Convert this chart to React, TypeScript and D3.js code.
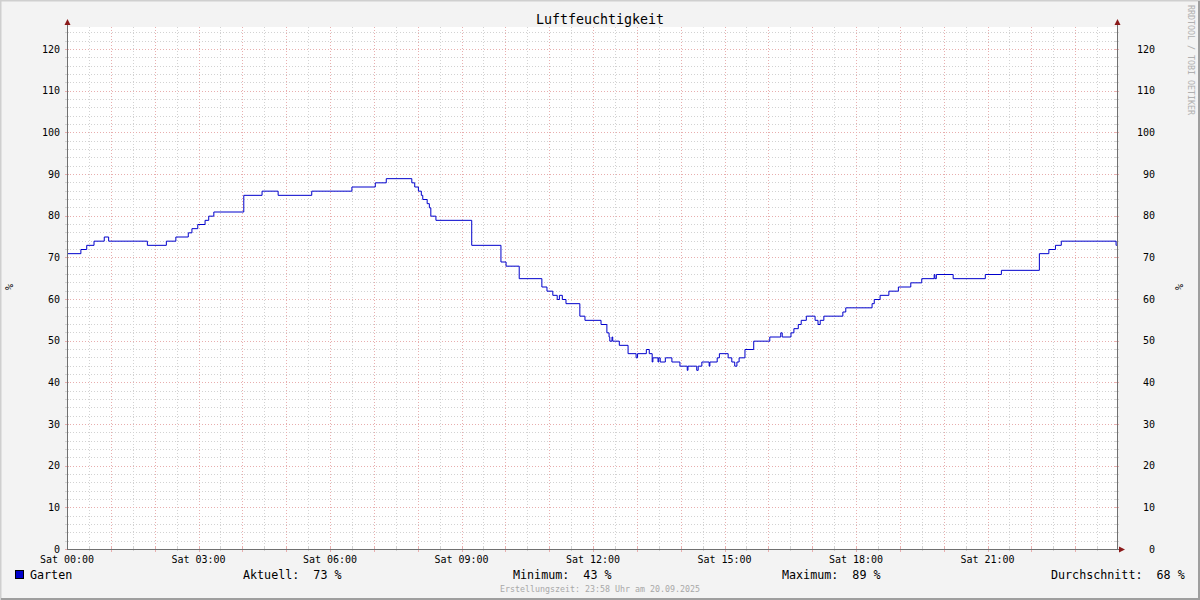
import React from "react";
import * as d3 from "d3";

// chart content
const title = "Luftfeuchtigkeit";
const seriesName = "Garten";
const unitLabel = "%";
const watermark = "RRDTOOL / TOBI OETIKER";
const footer = "Erstellungszeit: 23:58 Uhr am 20.09.2025";

// step changes of the humidity curve: minute of day -> value (%)
const stepMinutes = [
  0, 19, 27, 37, 51, 57, 110, 136, 149, 166, 171, 179, 189, 194, 201, 242, 267, 289, 335, 390,
  422, 437, 472, 476, 481, 485, 487, 493, 496, 498, 505, 554, 594, 601, 619, 650, 657, 665, 671, 674,
  678, 683, 702, 709, 731, 739, 742, 743, 746, 747, 756, 768, 779, 781, 793, 797, 801, 802, 809, 810,
  812, 819, 828, 839, 849, 850, 862, 864, 869, 879, 880, 890, 893, 905, 910, 914, 917, 920, 928, 940,
  962, 977, 979, 991, 995, 1001, 1005, 1012, 1024, 1028, 1031, 1036, 1062, 1066, 1102, 1105, 1113, 1125, 1138, 1155,
  1170, 1187, 1188, 1190, 1213, 1257, 1279, 1331, 1344, 1353, 1361, 1436,
];
const stepValues = [
  71, 72, 73, 74, 75, 74, 73, 74, 75, 76, 77, 78, 79, 80, 81, 85, 86, 85, 86, 87,
  88, 89, 88, 87, 86, 85, 84, 83, 82, 80, 79, 73, 69, 68, 65, 63, 62, 61, 60, 61,
  60, 59, 56, 55, 54, 52, 51, 50, 51, 50, 49, 47, 46, 47, 48, 47, 45, 46, 45, 46,
  45, 46, 45, 44, 43, 44, 43, 44, 45, 44, 45, 46, 47, 46, 45, 44, 45, 46, 48, 50,
  51, 52, 51, 52, 53, 54, 55, 56, 55, 54, 55, 56, 57, 58, 59, 60, 61, 62, 63, 64,
  65, 66, 65, 66, 65, 66, 67, 71, 72, 73, 74, 73,
];
const endMinute = 1437;

const yTicks = [0, 10, 20, 30, 40, 50, 60, 70, 80, 90, 100, 110, 120];
const xLabelHours = [0, 3, 6, 9, 12, 15, 18, 21];
const xLabels = ["Sat 00:00", "Sat 03:00", "Sat 06:00", "Sat 09:00", "Sat 12:00", "Sat 15:00", "Sat 18:00", "Sat 21:00"];

const statLabels = ["Aktuell:", "Minimum:", "Maximum:", "Durchschnitt:"];
const statValues = ["73 %", "43 %", "89 %", "68 %"];

const W = 1200;
const H = 600;
const plot = { left: 67, right: 1117, top: 27, bottom: 549 };
const mono = "'DejaVu Sans Mono', monospace";
const lineColor = "#0000cc";
const minorGrid = "#d2d2d2";
const majorGrid = "#e8aeae";
const axisColor = "#707070";
const arrowColor = "#8b1a1a";

const App: React.FC = () => {
  const x = d3.scaleLinear().domain([0, 1440]).range([plot.left, plot.left + 1052]);
  const y = d3.scaleLinear().domain([0, 120]).range([plot.bottom, 49]);
  const px = (m: number) => Math.round(x(m)) + 0.5;
  const py = (v: number) => Math.round(y(v)) + 0.5;

  const points: [number, number][] = stepMinutes.map((m, i) => [m, stepValues[i]]);
  points.push([endMinute, stepValues[stepValues.length - 1]]);
  const line = d3
    .line<[number, number]>()
    .x((d) => x(d[0]))
    .y((d) => y(d[1]) + 0.5)
    .curve(d3.curveStepAfter);

  const minorY = d3.range(0, 126, 2).filter((v) => v % 10 !== 0);
  const minorX = d3.range(30, 1440, 60);
  const majorX = d3.range(60, 1440, 60);

  const statX = [243, 513, 782, 1051];

  return (
    <svg
      width={W}
      height={H}
      style={{ position: "absolute", left: 0, top: 0, fontFamily: mono }}
    >
      {/* frame */}
      <rect x={0} y={0} width={W} height={H} fill="#f3f3f3" />
      <path d={`M0.5,${H} V0.5 H${W}`} stroke="#cfcfcf" strokeWidth={2} fill="none" />
      <path d={`M1,${H - 1} H${W - 1} V1`} stroke="#9e9e9e" strokeWidth={2} fill="none" />

      <rect
        x={plot.left}
        y={plot.top}
        width={plot.right - plot.left}
        height={plot.bottom - plot.top}
        fill="#ffffff"
      />

      {/* grid */}
      <g shapeRendering="crispEdges" strokeDasharray="1,2" strokeWidth={1}>
        {minorY.map((v) => (
          <line key={"my" + v} x1={plot.left} x2={plot.right} y1={py(v)} y2={py(v)} stroke={minorGrid} />
        ))}
        {minorX.map((m) => (
          <line key={"mx" + m} x1={px(m)} x2={px(m)} y1={plot.top} y2={plot.bottom} stroke={minorGrid} />
        ))}
        {yTicks
          .filter((v) => v > 0)
          .map((v) => (
            <line key={"Y" + v} x1={plot.left} x2={plot.right} y1={py(v)} y2={py(v)} stroke={majorGrid} />
          ))}
        {majorX.map((m) => (
          <line key={"X" + m} x1={px(m)} x2={px(m)} y1={plot.top} y2={plot.bottom} stroke={majorGrid} />
        ))}
      </g>

      {/* axis ticks */}
      <g shapeRendering="crispEdges" strokeWidth={1}>
        {minorY.map((v) => (
          <g key={"ty" + v}>
            <line x1={plot.left - 2} x2={plot.left + 2} y1={py(v)} y2={py(v)} stroke={minorGrid} />
            <line x1={plot.right - 2} x2={plot.right + 2} y1={py(v)} y2={py(v)} stroke={minorGrid} />
          </g>
        ))}
        {yTicks.map((v) => (
          <g key={"tY" + v}>
            <line x1={plot.left - 2} x2={plot.left + 2} y1={py(v)} y2={py(v)} stroke={majorGrid} />
            <line x1={plot.right - 2} x2={plot.right + 2} y1={py(v)} y2={py(v)} stroke={majorGrid} />
          </g>
        ))}
        {minorX.map((m) => (
          <line key={"tx" + m} x1={px(m)} x2={px(m)} y1={plot.bottom - 2} y2={plot.bottom + 2} stroke={minorGrid} />
        ))}
        {majorX.map((m) => (
          <line key={"tX" + m} x1={px(m)} x2={px(m)} y1={plot.bottom - 2} y2={plot.bottom + 3} stroke={majorGrid} />
        ))}
      </g>

      {/* data */}
      <path d={line(points) ?? ""} fill="none" stroke={lineColor} strokeWidth={1} />

      {/* axes */}
      <g shapeRendering="crispEdges" stroke={axisColor} strokeWidth={1}>
        <line x1={plot.left + 0.5} x2={plot.left + 0.5} y1={23} y2={plot.bottom + 1} />
        <line x1={plot.right + 0.5} x2={plot.right + 0.5} y1={23} y2={plot.bottom + 1} />
        <line x1={plot.left} x2={plot.right + 4} y1={plot.bottom + 0.5} y2={plot.bottom + 0.5} />
      </g>
      <g fill={arrowColor}>
        <path d={`M${plot.left - 2.5},${25} L${plot.left + 3.5},${25} L${plot.left + 0.5},${19} Z`} />
        <path d={`M${plot.right - 2.5},${25} L${plot.right + 3.5},${25} L${plot.right + 0.5},${19} Z`} />
        <path d={`M${plot.right + 2},${plot.bottom - 2.5} L${plot.right + 2},${plot.bottom + 3.5} L${plot.right + 8},${plot.bottom + 0.5} Z`} />
      </g>

      {/* y labels */}
      <g fontSize={10} fill="#000" textAnchor="end">
        {yTicks.map((v) => (
          <g key={"l" + v}>
            <text x={60} y={y(v) + 3.5}>{v}</text>
            <text x={1155} y={y(v) + 3.5}>{v}</text>
          </g>
        ))}
      </g>

      {/* x labels */}
      <g fontSize={10} fill="#000" textAnchor="middle">
        {xLabelHours.map((h, i) => (
          <text key={"xl" + h} x={x(h * 60)} y={562.5}>{xLabels[i]}</text>
        ))}
      </g>

      {/* unit labels */}
      <text fontSize={10} textAnchor="middle" transform="translate(13,287) rotate(-90)">{unitLabel}</text>
      <text fontSize={10} textAnchor="middle" transform="translate(1183,287) rotate(-90)">{unitLabel}</text>

      {/* title */}
      <text x={600} y={24} fontSize={13.3} textAnchor="middle" fill="#000">{title}</text>

      {/* watermark */}
      <text
        fontSize={8.3}
        fill="#b0b0b0"
        textAnchor="middle"
        transform="translate(1188,60) rotate(90)"
      >
        {watermark}
      </text>

      {/* legend */}
      <rect x={15.5} y={570.5} width={8} height={8} fill={lineColor} stroke="#000" strokeWidth={1} />
      <g fontSize={11.7} fill="#000">
        <text x={30} y={579}>{seriesName}</text>
        {statLabels.map((l, i) => (
          <text key={l} x={statX[i]} y={579} xmlSpace="preserve" style={{ whiteSpace: "pre" }}>
            {`${l}  ${statValues[i]}`}
          </text>
        ))}
      </g>

      <text x={600} y={592} fontSize={8.3} fill="#a8a8a8" textAnchor="middle">{footer}</text>
    </svg>
  );
};

export default App;
